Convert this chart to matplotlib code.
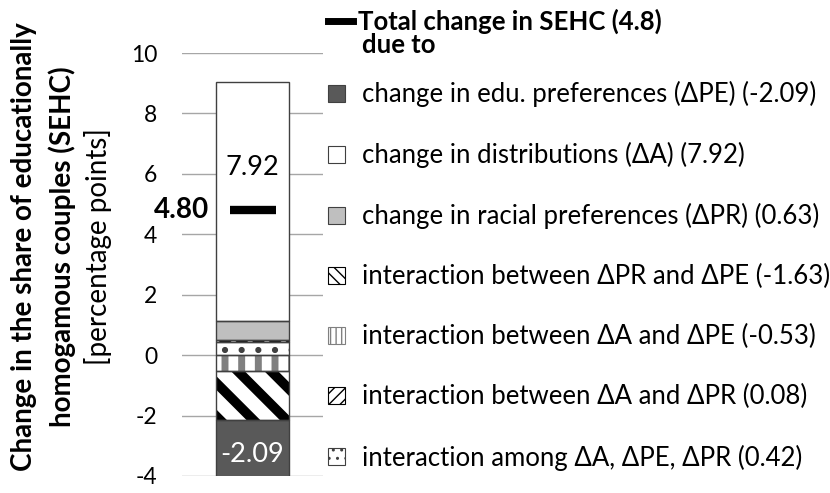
import matplotlib
matplotlib.use("Agg")
import matplotlib.pyplot as plt
from matplotlib.patches import Patch
from matplotlib.lines import Line2D

plt.rcParams['font.family'] = ['Lato', 'DejaVu Sans']
plt.rcParams['axes.unicode_minus'] = False

# data (legend order)
labels = [
    "change in edu. preferences (ΔPE) (-2.09)",
    "change in distributions (ΔA) (7.92)",
    "change in racial preferences (ΔPR) (0.63)",
    "interaction between ΔPR and ΔPE (-1.63)",
    "interaction between ΔA and ΔPE (-0.53)",
    "interaction between ΔA and ΔPR (0.08)",
    "interaction among ΔA, ΔPE, ΔPR (0.42)",
]
values = [-2.09, 7.92, 0.63, -1.63, -0.53, 0.08, 0.42]
total = 4.80
total_label = "Total change in SEHC (4.8)"
yticks = [-4, -2, 0, 2, 4, 6, 8, 10]

# styles
faces = ['#595959', 'white', '#bfbfbf', 'white', 'white', 'white', 'white']
hatches = [None, None, None, '\\', '|', '//', '.']
leg_hatches = [None, None, None, '\\\\\\', '|||', '///', '..']
hatch_cols = ['#595959', 'white', '#bfbfbf', 'black', '#808080', 'black', '#404040']
leg_edges = ['#404040', '#404040', '#404040', 'black', '#808080', 'black', '#404040']
hatch_lw = [1, 1, 1, 7, 5, 6, 2]
leg_hatch_lw = [1, 1, 1, 3, 2, 3, 1.5]
edge = '#404040'

fig = plt.figure(figsize=(8.3, 4.93), dpi=100)
ax = fig.add_axes([182/830, 1-476/493, 141/830, 423/493])

# stacked bar: last series closest to zero
pos, neg = 0.0, 0.0
bottoms = [0.0]*len(values)
for i in reversed(range(len(values))):
    if values[i] >= 0:
        bottoms[i] = pos
        pos += values[i]
    else:
        bottoms[i] = neg
        neg += values[i]

handles = []
for i, v in enumerate(values):
    with plt.rc_context({'hatch.linewidth': hatch_lw[i]}):
        ax.bar(0, v, bottom=bottoms[i], width=0.52, color=faces[i],
               hatch=hatches[i], edgecolor=hatch_cols[i], linewidth=0, zorder=2)
    ax.bar(0, v, bottom=bottoms[i], width=0.52, facecolor='none',
           edgecolor=edge, linewidth=1, zorder=3)
    with plt.rc_context({'hatch.linewidth': leg_hatch_lw[i]}):
        p = Patch(facecolor=faces[i], hatch=leg_hatches[i], edgecolor=leg_edges[i],
                  linewidth=0.8)
    handles.append(p)

# total marker
ax.plot(0, total, marker='_', markersize=33, markeredgewidth=6, color='black', zorder=4)
ax.annotate(f"{total:.2f}", (0, total), xytext=(-43, 0), textcoords='offset pixels',
            ha='right', va='center', fontsize=20, fontweight='bold')

# segment labels
ax.annotate(f"{values[1]:.2f}", (0, bottoms[1] + values[1]/2), xytext=(0, 34),
            textcoords='offset pixels', ha='center', va='center', fontsize=19.5, zorder=5)
ax.annotate(f"{values[0]:.2f}", (0, bottoms[0] + values[0]/2), xytext=(0, -3),
            textcoords='offset pixels', ha='center', va='center', fontsize=19.5,
            color='white', zorder=5)

ax.set_xlim(-0.5, 0.5)
ax.set_ylim(-4, 10)
ax.set_yticks(yticks)
ax.set_xticks([])
ax.tick_params(axis='y', length=0, pad=18, labelsize=16.5)
ax.grid(axis='y', color='#a6a6a6', linewidth=1, zorder=0)
for s in ax.spines.values():
    s.set_visible(False)

# y label
fig.text(24/830, 0.5, "Change in the share of educationally", rotation=90,
         ha='center', va='center', fontsize=20, fontweight='bold')
fig.text(62/830, 0.5, "homogamous couples (SEHC)", rotation=90,
         ha='center', va='center', fontsize=20, fontweight='bold')
fig.text(98/830, 0.5, "[percentage points]", rotation=90,
         ha='center', va='center', fontsize=20)

# legend: total line + "due to"
leg1 = fig.legend([Line2D([], [], color='black', linewidth=5)], [total_label],
                  loc='upper left', bbox_to_anchor=(323/830, 1 - 4/493), frameon=False,
                  fontsize=18.5, handlelength=0.95, handletextpad=0.2,
                  borderaxespad=0, borderpad=0.2)
leg1.get_texts()[0].set_fontweight('bold')
fig.text(362/830, 1 - 45/493, "due to", ha='left', va='center',
         fontsize=18.5, fontweight='bold')

# legend: components
leg2 = fig.legend(handles, labels,
                  loc='upper left', bbox_to_anchor=(323/830, 1 - 76/493), frameon=False,
                  fontsize=18.5, handlelength=0.65, handleheight=0.65,
                  handletextpad=0.65, labelspacing=1.36, borderaxespad=0, borderpad=0.2)

fig.savefig("out.png", dpi=100)
